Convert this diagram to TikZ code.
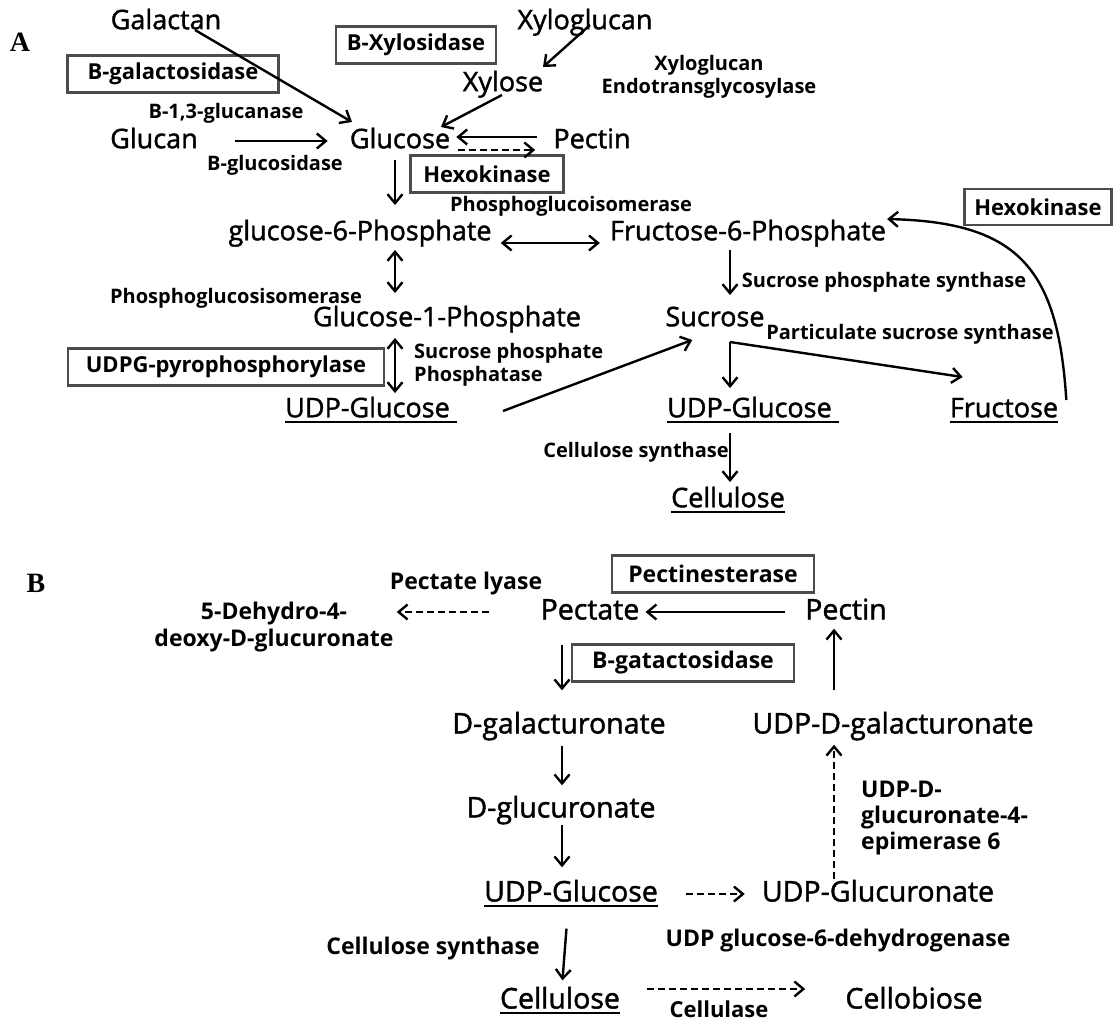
\documentclass[tikz,border=0pt]{standalone}
\usepackage{fontspec}
\setmainfont{Open Sans}
\newfontfamily\metfont{Open Sans}[FakeBold=1.5]
\newfontfamily\panelfont{Liberation Serif}
\usetikzlibrary{arrows.meta}
\newsavebox\ulbox
\newcommand\ulin[1]{\sbox\ulbox{#1}\rlap{\rule[-0.2em]{\wd\ulbox}{1.9pt}}\usebox\ulbox}

\begin{document}
\begin{tikzpicture}[x=1pt,y=-1pt,
  met/.style={font=\metfont\fontsize{27}{30}\selectfont,inner sep=1pt,text height=20pt,text depth=5.5pt},
  metb/.style={font=\metfont\fontsize{28.5}{32}\selectfont,inner sep=1pt,text height=21pt,text depth=6pt},
  enz/.style={font=\bfseries\fontsize{20}{23}\selectfont,inner sep=1pt,text height=15pt,text depth=4pt},
  enzb/.style={font=\bfseries\fontsize{23}{27}\selectfont,inner sep=1pt,text height=17pt,text depth=4.6pt},
  enzm/.style={font=\bfseries\fontsize{20}{23}\selectfont,inner sep=1pt},
  ebox/.style={draw=black!70,line width=2.8pt,font=\bfseries\fontsize{22}{24}\selectfont,
    minimum height=37pt,inner xsep=6pt},
  panel/.style={font=\panelfont\bfseries\fontsize{28}{28}\selectfont},
  arrow/.style={-{Straight Barb[length=9pt,width=15pt]},line width=2.4pt},
  darrow/.style={arrow,dash pattern=on 7pt off 4pt},
  dbl/.style={{Straight Barb[length=9pt,width=15pt]}-{Straight Barb[length=9pt,width=15pt]},line width=2.4pt}]
\useasboundingbox (0,0) rectangle (1117,1022);

% panel A
\node[panel] (pa) at (20,42) {A};
\node[met] (galactan) at (166,22) {Galactan};
\node[met] (xyloglucan) at (585,22) {Xyloglucan};
\node[ebox,minimum width=160pt] (bxyl) at (416,45) {B-Xylosidase};
\node[ebox,minimum width=211pt] (bgal) at (173,74) {B-galactosidase};
\node[met] (xylose) at (503,84) {Xylose};
\node[enzm,align=center] (xet) at (709,77) {Xyloglucan\\Endotransglycosylase};
\node[enz] (glucanase) at (226,113) {B-1,3-glucanase};
\node[met] (glucan) at (154,141) {Glucan};
\node[met] (glucose) at (400,141) {Glucose};
\node[met] (pectinA) at (592,141) {Pectin};
\node[enz] (bglc) at (275,165) {B-glucosidase};
\node[ebox,minimum width=153pt] (hexoA) at (487,174) {Hexokinase};
\node[enz] (pgi) at (571,206) {Phosphoglucoisomerase};
\node[met] (g6p) at (360,233) {glucose-6-Phosphate};
\node[met] (f6p) at (748,233) {Fructose-6-Phosphate};
\node[ebox,minimum width=147pt,minimum height=36pt] (hexoB) at (1038,207) {Hexokinase};
\node[enz] (sps) at (884,282) {Sucrose phosphate synthase};
\node[enz] (pgsi) at (236,298) {Phosphoglucosisomerase};
\node[met] (g1p) at (447,319) {Glucose-1-Phosphate};
\node[met] (sucrose) at (715,319) {Sucrose};
\node[enz] (pss) at (910,334) {Particulate sucrose synthase};
\node[ebox,minimum width=316pt] (udpgp) at (226,367) {UDPG-pyrophosphorylase};
\node[enzm,align=left,anchor=west] (spp) at (413,365) {Sucrose phosphate\\Phosphatase};
\node[met,anchor=east] (udpglcA) at (458,410) {\ulin{UDP-Glucose\ }};
\node[met,anchor=west] (udpglcC) at (666,410) {\ulin{UDP-Glucose\ }};
\node[met] (fructose) at (1004,410) {\ulin{Fructose}};
\node[enz] (cellsynA) at (636,452) {Cellulose synthase};
\node[met] (celluloseA) at (728,500) {\ulin{Cellulose}};
\coordinate (fork) at (730,342);

\draw[arrow] ([xshift=29pt,yshift=-8pt]galactan.center) -- ([xshift=-48pt,yshift=19pt]glucose.center);
\draw[arrow] ([xshift=5pt,yshift=-3pt]xyloglucan.center) -- ([xshift=40pt,yshift=17pt]xylose.center);
\draw[arrow] ([xshift=-1pt,yshift=-11pt]xylose.center) -- ([xshift=41pt,yshift=14pt]glucose.center);
\draw[arrow,shorten <=36pt,shorten >=21pt] (glucan) -- (glucose);
\draw[arrow,shorten <=15pt,shorten >=5pt] ([yshift=4pt]pectinA.west) -- ([yshift=4pt]glucose.east);
\draw[darrow,shorten <=7pt,shorten >=17pt] ([yshift=-9pt]glucose.east) -- ([yshift=-9pt]pectinA.west);
\draw[arrow,shorten <=5pt,shorten >=14pt] (glucose.south -| 395,0) -- (g6p.north -| 395,0);
\draw[dbl,shorten <=8pt,shorten >=9pt] ([yshift=-10pt]g6p.east) -- ([yshift=-10pt]f6p.west);
\draw[dbl,shorten <=3pt,shorten >=12pt] (g6p.south -| 395,0) -- (g1p.north -| 395,0);
\draw[dbl,shorten <=5pt,shorten >=3pt] (g1p.south -| 395,0) -- (udpglcA.north -| 395,0);
\draw[arrow,shorten <=3pt,shorten >=10pt] (f6p.south -| 730,0) -- (sucrose.north -| 730,0);
\draw[arrow] ([xshift=45pt,yshift=-1pt]udpglcA.east) -- ([xshift=28pt,yshift=-7pt]sucrose.south west);
\draw[arrow,shorten >=8pt] (fork) -- (udpglcC.north -| fork);
\draw[arrow] (fork) -- ([xshift=14pt,yshift=19pt]fructose.north west);
\draw[arrow,shorten <=9pt,shorten >=4pt] (udpglcC.south -| 730,0) -- (celluloseA.north -| 730,0);
\draw[arrow] ([xshift=7pt,yshift=10pt]fructose.east) .. controls (1058,270) and (1020,222) .. (f6p.north east);

% panel B
\node[panel] (pb) at (36,583) {B};
\node[enzb] (plyase) at (466,583) {Pectate lyase};
\node[ebox,minimum width=202pt,font=\bfseries\fontsize{23}{25}\selectfont] (pme) at (713,574) {Pectinesterase};
\node[enzm,font=\bfseries\fontsize{23}{27}\selectfont,align=center] (dehydro) at (274,627) {5-Dehydro-4-\\deoxy-D-glucuronate};
\node[metb] (pectate) at (590,612) {Pectate};
\node[metb] (pectinB) at (846,612) {Pectin};
\node[ebox,minimum width=222pt,font=\bfseries\fontsize{23}{25}\selectfont] (bgat) at (683,663) {B-gatactosidase};
\node[metb] (dgalact) at (559,726) {D-galacturonate};
\node[metb] (udpdgal) at (893,726) {UDP-D-galacturonate};
\node[enzm,font=\bfseries\fontsize{23}{26}\selectfont,align=left,anchor=west] (epim) at (860,818) {UDP-D-\\glucuronate-4-\\epimerase 6};
\node[metb] (dgluc) at (561,810) {D-glucuronate};
\node[metb] (udpglcB) at (571,894) {\ulin{UDP-Glucose}};
\node[metb] (udpglcr) at (878,894) {UDP-Glucuronate};
\node[enzb] (ugdh) at (838,940) {UDP glucose-6-dehydrogenase};
\node[enzb] (cellsynB) at (433,948) {Cellulose synthase};
\node[metb] (celluloseB) at (560,1001) {\ulin{Cellulose}};
\node[metb] (cellobiose) at (914,1001) {Cellobiose};
\node[enzb,font=\bfseries\fontsize{22}{26}\selectfont] (cellulase) at (719,1011) {Cellulase};

\draw[darrow,shorten <=50pt,shorten >=2pt] (pectate.west) -- (pectate.west -| dehydro.east);
\draw[arrow,shorten <=19pt,shorten >=5pt] (pectinB.west) -- (pectate.east);
\draw[arrow,shorten <=18pt,shorten >=21pt] (pectate.south -| 562,0) -- (dgalact.north -| 562,0);
\draw[arrow,shorten <=21pt,shorten >=2pt] (udpdgal.north -| 834,0) -- (pectinB.south -| 834,0);
\draw[arrow,shorten <=5pt,shorten >=10pt] (dgalact.south -| 562,0) -- (dgluc.north -| 562,0);
\draw[arrow,shorten <=0pt,shorten >=12pt] (dgluc.south -| 562,0) -- (udpglcB.north -| 562,0);
\draw[darrow,shorten <=27pt,shorten >=16pt] (udpglcB.east) -- (udpglcr.west);
\draw[darrow,shorten >=4pt] (udpglcr.north -| 834,0) -- (udpdgal.south -| 834,0);
\draw[arrow,shorten <=20pt,shorten >=6pt] ([xshift=-3pt]udpglcB.south) -- ([xshift=2pt]celluloseB.north);
\draw[darrow,shorten <=26pt,shorten >=39pt] ([yshift=12pt]celluloseB.east) -- ([yshift=12pt]cellobiose.west);
\end{tikzpicture}
\end{document}
